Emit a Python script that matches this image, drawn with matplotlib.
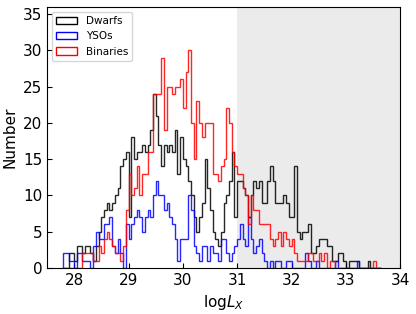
import matplotlib
matplotlib.use("Agg")
import matplotlib.pyplot as plt
import numpy as np
from matplotlib.patches import Patch

# histogram counts, bins of 0.05 dex starting at logLx = 27.8
bin_start = 27.8
bin_width = 0.05

dwarfs = [
    0, 0, 2, 2, 1, 3, 3, 2, 3, 3,
    2, 1, 3, 5, 7, 8, 9, 8, 9, 10,
    11, 14, 15, 16, 7, 18, 15, 16, 16, 17,
    16, 17, 19, 24, 21, 17, 14, 17, 16, 17,
    16, 19, 13, 18, 15, 14, 12, 10, 7, 5,
    7, 9, 15, 11, 8, 5, 4, 3, 5, 9,
    10, 12, 16, 7, 12, 12, 11, 10, 7, 10,
    12, 11, 12, 9, 9, 12, 14, 12, 9, 9,
    9, 10, 9, 7, 7, 14, 5, 4, 5, 5,
    6, 2, 2, 3, 4, 4, 4, 3, 3, 1,
    1, 2, 2, 1, 0, 1, 1, 1, 1, 0,
    0, 0, 1, 0, 0, 0, 0,
]
ysos = [
    2, 2, 1, 1, 0, 2, 2, 1, 1, 1,
    0, 3, 5, 4, 4, 6, 6, 7, 3, 2,
    4, 2, 0, 6, 4, 6, 7, 8, 7, 5,
    7, 8, 7, 10, 12, 10, 10, 8, 9, 7,
    6, 4, 1, 4, 4, 4, 10, 8, 3, 2,
    1, 3, 3, 1, 3, 2, 2, 1, 4, 4,
    2, 1, 2, 3, 4, 6, 4, 3, 7, 4,
    2, 3, 4, 2, 1, 0, 1, 0, 1, 1,
    0, 0, 1, 1, 0, 0, 0, 0, 0, 2,
    1, 0, 0, 1, 0, 0, 0, 0, 0, 0,
    1, 0, 0, 0, 0, 0, 0, 0, 1, 0,
    0, 0, 0, 0, 0, 0, 0,
]
binaries = [
    0, 0, 0, 0, 0, 0, 0, 2, 2, 2,
    2, 1, 1, 3, 2, 4, 5, 4, 3, 2,
    2, 1, 3, 8, 13, 10, 11, 14, 10, 13,
    13, 16, 16, 24, 24, 24, 29, 19, 25, 25,
    24, 25, 25, 26, 22, 27, 30, 20, 15, 23,
    20, 18, 20, 20, 20, 13, 13, 12, 14, 15,
    22, 20, 16, 14, 13, 13, 11, 10, 6, 10,
    8, 8, 6, 6, 6, 6, 4, 3, 4, 5,
    3, 5, 4, 3, 4, 2, 1, 1, 1, 1,
    2, 2, 1, 1, 2, 1, 2, 0, 1, 1,
    0, 0, 0, 0, 0, 0, 0, 0, 0, 0,
    0, 0, 0, 0, 1, 0, 0,
]

labels = ["Dwarfs", "YSOs", "Binaries"]
colors = ["black", "blue", "red"]

edges = bin_start + bin_width * np.arange(len(dwarfs) + 1)

fig = plt.figure(figsize=(4.16, 3.14), dpi=100)
ax = fig.add_axes([0.113, 0.147, 0.849, 0.831])

ax.axvspan(31, 34, color="#ebebeb", lw=0, zorder=0)

for counts, c in zip([dwarfs, ysos, binaries], colors):
    ax.stairs(counts, edges, color=c, lw=1.0, alpha=0.85, zorder=2)

ax.set_xlim(27.5, 34)
ax.set_ylim(0, 36)
ax.set_xticks([28, 29, 30, 31, 32, 33, 34])
ax.set_yticks([0, 5, 10, 15, 20, 25, 30, 35])
ax.tick_params(direction="in", labelsize=11)
ax.set_xlabel(r"log$L_X$", fontsize=11)
ax.set_ylabel("Number", fontsize=11)

handles = [Patch(facecolor="none", edgecolor=c, label=l) for c, l in zip(colors, labels)]
ax.legend(handles=handles, loc="upper left", fontsize=7.5)

fig.savefig("out.png", dpi=100)
